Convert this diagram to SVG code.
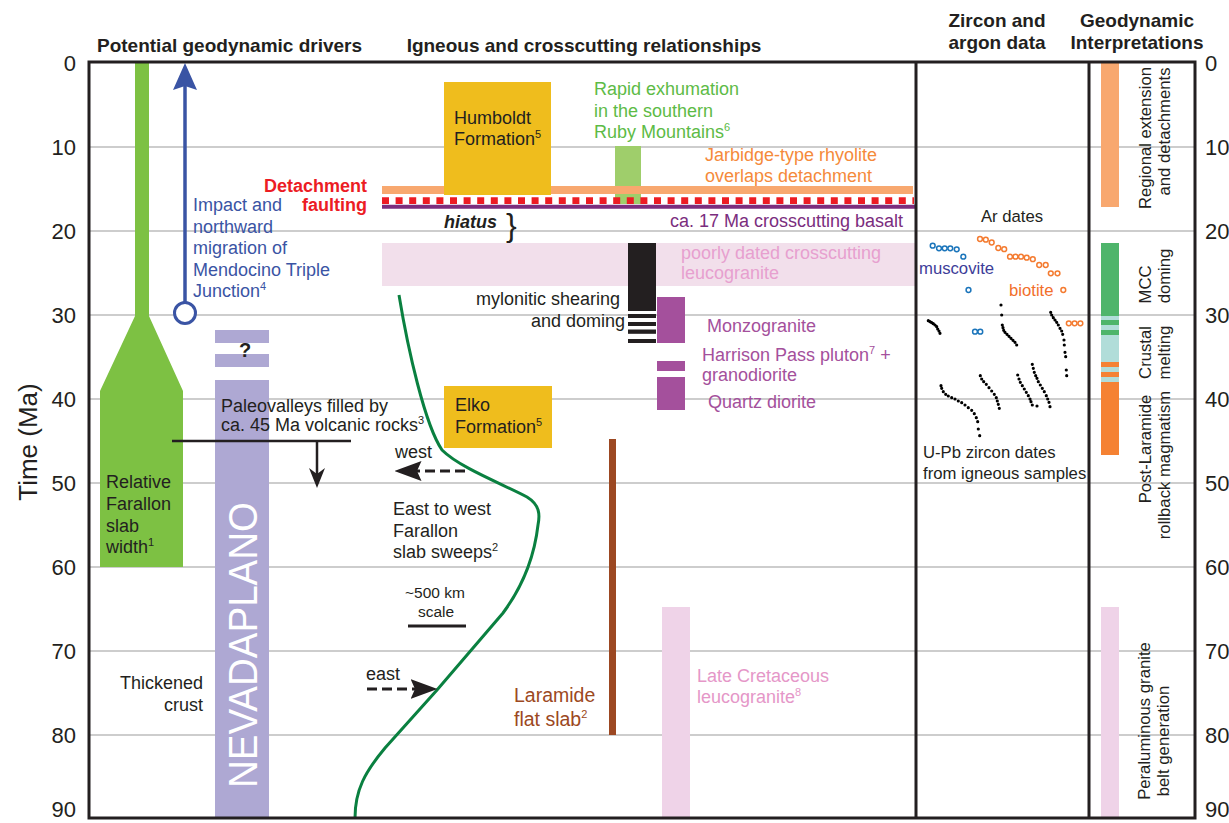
<svg xmlns="http://www.w3.org/2000/svg" width="1229" height="823" viewBox="0 0 1229 823">
<defs>
<style>
text{font-family:"Liberation Sans",Arial,sans-serif;fill:#231f20}
.b{font-size:18px}
.s{font-size:16.7px}
.h{font-size:19px;font-weight:bold}
.ax{font-size:22px}
.sup{font-size:11px}
.grid line{stroke:#cdcdcd;stroke-width:2}
.frame{fill:none;stroke:#231f20;stroke-width:3}
.gold{fill:#efbd1d}
.purp{fill:#a4509c}
.mus{fill:#fff;stroke:#1b75bb;stroke-width:1.5}
.bio{fill:#fff;stroke:#f47b30;stroke-width:1.5}
.dash{fill:none;stroke:#231f20;stroke-width:3;stroke-dasharray:10 5}
</style>
<marker id="ah" viewBox="0 0 27 20" refX="4.5" refY="10" markerWidth="27" markerHeight="20" markerUnits="userSpaceOnUse" orient="auto"><path d="M0,0 L27,10 L0,20 L4.5,10 Z" fill="#231f20"/></marker>
<marker id="ahs" viewBox="0 0 20 16" refX="6" refY="8" markerWidth="20" markerHeight="16" markerUnits="userSpaceOnUse" orient="auto"><path d="M0,0 L20,8 L0,16 L6,8 Z" fill="#231f20"/></marker>
<marker id="ahb" viewBox="0 0 27 24" refX="4" refY="12" markerWidth="27" markerHeight="24" markerUnits="userSpaceOnUse" orient="auto"><path d="M0,0 L27,12 L0,24 L4,12 Z" fill="#3a54a4"/></marker>
</defs>
<rect width="1229" height="823" fill="#fff"/>

<g id="grid" class="grid">
<line x1="89" y1="147" x2="1195" y2="147"/>
<line x1="89" y1="231" x2="1195" y2="231"/>
<line x1="89" y1="315" x2="1195" y2="315"/>
<line x1="89" y1="399" x2="1195" y2="399"/>
<line x1="89" y1="483" x2="1195" y2="483"/>
<line x1="89" y1="567" x2="1195" y2="567"/>
<line x1="89" y1="651" x2="1195" y2="651"/>
<line x1="89" y1="735" x2="1195" y2="735"/>
</g>

<g id="headers">
<text class="h" x="97" y="52">Potential geodynamic drivers</text>
<text class="h" x="584" y="52" text-anchor="middle">Igneous and crosscutting relationships</text>
<text class="h" x="997" y="27" text-anchor="middle">Zircon and</text>
<text class="h" x="997" y="49" text-anchor="middle">argon data</text>
<text class="h" x="1137" y="27" text-anchor="middle">Geodynamic</text>
<text class="h" x="1137" y="49" text-anchor="middle">Interpretations</text>
</g>

<g id="axis-left" class="ax" text-anchor="end">
<text x="76" y="71">0</text><text x="76" y="155">10</text><text x="76" y="239">20</text><text x="76" y="323">30</text><text x="76" y="407">40</text><text x="76" y="491">50</text><text x="76" y="575">60</text><text x="76" y="659">70</text><text x="76" y="743">80</text><text x="76" y="817">90</text>
</g>
<g id="axis-right" class="ax">
<text x="1205" y="71">0</text><text x="1205" y="155">10</text><text x="1205" y="239">20</text><text x="1205" y="323">30</text><text x="1205" y="407">40</text><text x="1205" y="491">50</text><text x="1205" y="575">60</text><text x="1205" y="659">70</text><text x="1205" y="743">80</text><text x="1205" y="817">90</text>
</g>
<text id="axis-title" transform="translate(37,442) rotate(-90)" text-anchor="middle" font-size="26">Time (Ma)</text>

<g id="farallon-width">
<polygon points="135,62 149,62 149,316 183,391 183,567 100,567 100,391 135,316" fill="#7dc143"/>
<text class="b" x="106" y="488">Relative</text>
<text class="b" x="106" y="510">Farallon</text>
<text class="b" x="106" y="532">slab</text>
<text class="b" x="106" y="553">width<tspan class="sup" dy="-7">1</tspan></text>
</g>

<g id="mendocino" fill="#3a54a4">
<text class="b" x="193" y="211" style="fill:#3a54a4">Impact and</text>
<text class="b" x="193" y="232.5" style="fill:#3a54a4">northward</text>
<text class="b" x="193" y="254" style="fill:#3a54a4">migration of</text>
<text class="b" x="193" y="275.5" style="fill:#3a54a4">Mendocino Triple</text>
<text class="b" x="193" y="297" style="fill:#3a54a4">Junction<tspan class="sup" dy="-7">4</tspan></text>
<circle cx="185" cy="313" r="10.5" fill="#fff" stroke="#3a54a4" stroke-width="3"/>
</g>

<g id="detachment-label" font-weight="bold" text-anchor="end">
<text x="367" y="192" font-size="18" style="fill:#ec1c24">Detachment</text>
<text x="367" y="211" font-size="18" style="fill:#ec1c24">faulting</text>
</g>

<g id="nevadaplano">
<rect x="215" y="330" width="54" height="13" fill="#aea8d3"/>
<rect x="215" y="354" width="54" height="13" fill="#aea8d3"/>
<rect x="215" y="380" width="54" height="438" fill="#aea8d3"/>
<text x="245" y="357" text-anchor="middle" font-size="20" font-weight="bold">?</text>
<text transform="translate(257,645) rotate(-90)" text-anchor="middle" font-size="41" style="fill:#fff" textLength="286" lengthAdjust="spacingAndGlyphs">NEVADAPLANO</text>
</g>

<g id="paleovalleys">
<text class="b" x="221" y="412">Paleovalleys filled by</text>
<text class="b" x="221" y="431">ca. 45 Ma volcanic rocks<tspan class="sup" dy="-7">3</tspan></text>
<line x1="172" y1="441" x2="351" y2="441" stroke="#231f20" stroke-width="2.5"/>
</g>

<g id="thickened-crust" text-anchor="end">
<text class="b" x="203" y="689">Thickened</text>
<text class="b" x="203" y="711">crust</text>
</g>

<g id="rapid-exhumation">
<rect x="615" y="146" width="26" height="58" fill="#9fce6b"/>
<text class="b" x="594" y="95" style="fill:#5dbb46">Rapid exhumation</text>
<text class="b" x="594" y="117" style="fill:#5dbb46">in the southern</text>
<text class="b" x="594" y="138" style="fill:#5dbb46">Ruby Mountains<tspan class="sup" dy="-7" style="fill:#5dbb46">6</tspan></text>
</g>

<g id="jarbidge">
<rect x="382" y="186" width="531" height="8" fill="#f8a86f"/>
<text class="b" x="705" y="161" style="fill:#f58a3b">Jarbidge-type rhyolite</text>
<text class="b" x="705" y="182" style="fill:#f58a3b">overlaps detachment</text>
</g>

<g id="humboldt">
<rect x="444" y="82" width="107" height="113" class="gold"/>
<text class="b" x="454" y="124">Humboldt</text>
<text class="b" x="454" y="145">Formation<tspan class="sup" dy="-7">5</tspan></text>
</g>

<g id="detachment">
<line x1="382" y1="200.7" x2="914" y2="200.7" stroke="#ec1c24" stroke-width="6.7" stroke-dasharray="7 6.6"/>
<line x1="382" y1="206.7" x2="916" y2="206.7" stroke="#7b2d7e" stroke-width="4"/>
</g>

<g id="basalt">
<text class="b" x="444" y="228" font-weight="bold" font-style="italic">hiatus</text>
<text x="506" y="236" font-size="32">}</text>
<text class="b" x="670" y="227" style="fill:#7b2d7e">ca. 17 Ma crosscutting basalt</text>
</g>

<g id="leucogranite-band">
<rect x="382" y="243" width="534" height="43" fill="#f2dfeb"/>
<text class="b" x="681" y="259" style="fill:#e7a0cf">poorly dated crosscutting</text>
<text class="b" x="681" y="279" style="fill:#e7a0cf">leucogranite</text>
</g>

<g id="mylonitic" fill="#231f20">
<rect x="628" y="243" width="28" height="68"/>
<rect x="628" y="314" width="28" height="4"/>
<rect x="628" y="322" width="28" height="4"/>
<rect x="628" y="329.5" width="28" height="4.3"/>
<rect x="628" y="339" width="28" height="4"/>
<text class="b" x="620" y="305" text-anchor="end">mylonitic shearing</text>
<text class="b" x="625" y="327" text-anchor="end">and doming</text>
</g>

<g id="harrison-pass">
<rect x="657" y="297" width="28" height="46" class="purp"/>
<rect x="657" y="361" width="28" height="10" class="purp"/>
<rect x="657" y="377" width="28" height="33" class="purp"/>
<text class="b" x="707" y="332" style="fill:#a4509c">Monzogranite</text>
<text class="b" x="702" y="361" style="fill:#a4509c">Harrison Pass pluton<tspan class="sup" dy="-7" style="fill:#a4509c">7</tspan><tspan dy="7" style="fill:#a4509c"> +</tspan></text>
<text class="b" x="702" y="381" style="fill:#a4509c">granodiorite</text>
<text class="b" x="708" y="408" style="fill:#a4509c">Quartz diorite</text>
</g>

<g id="elko">
<rect x="444" y="386" width="108" height="62" class="gold"/>
<text class="b" x="455" y="411">Elko</text>
<text class="b" x="455" y="433">Formation<tspan class="sup" dy="-7">5</tspan></text>
</g>

<g id="slab-sweep">
<path d="M399,295 C408,350 425,425 442,450 C460,468 505,485 527,497 C540,505 540,515 538,525 C534,560 520,590 503,613 L437,690 L385,748 C365,772 355,790 355,818" fill="none" stroke="#0a8040" stroke-width="3"/>
<text class="b" x="395" y="458">west</text>
<text class="b" x="366" y="680">east</text>
<text class="b" x="393" y="515">East to west</text>
<text class="b" x="393" y="537">Farallon</text>
<text class="b" x="393" y="558">slab sweeps<tspan class="sup" dy="-7">2</tspan></text>
<text x="435" y="598" font-size="15.5" text-anchor="middle">~500 km</text>
<text x="436" y="617" font-size="15.5" text-anchor="middle">scale</text>
<line x1="408" y1="626" x2="466" y2="626" stroke="#231f20" stroke-width="3"/>
</g>

<g id="laramide">
<rect x="609" y="439" width="7" height="296" fill="#9c4822"/>
<text x="514" y="702" font-size="19.5" style="fill:#9c4822">Laramide</text>
<text x="514" y="726" font-size="19.5" style="fill:#9c4822">flat slab<tspan class="sup" dy="-8" style="fill:#9c4822">2</tspan></text>
</g>

<g id="late-cretaceous">
<rect x="662" y="607" width="28" height="211" fill="#efd3e8"/>
<text class="b" x="697" y="682" style="fill:#e597c8">Late Cretaceous</text>
<text class="b" x="697" y="703" style="fill:#e597c8">leucogranite<tspan class="sup" dy="-7" style="fill:#e597c8">8</tspan></text>
</g>

<g id="argon-data">
<text class="s" x="1012" y="222" text-anchor="middle">Ar dates</text>
<circle class="mus" cx="932.7" cy="245.7" r="2.4"/><circle class="mus" cx="939" cy="248.3" r="2.4"/><circle class="mus" cx="944.7" cy="248.3" r="2.4"/><circle class="mus" cx="950.3" cy="248.3" r="2.4"/><circle class="mus" cx="956.7" cy="249.3" r="2.4"/><circle class="mus" cx="963.3" cy="256.7" r="2.4"/><circle class="mus" cx="968.5" cy="290" r="2.4"/><circle class="mus" cx="975" cy="331.7" r="2.4"/><circle class="mus" cx="980.3" cy="331.7" r="2.4"/>
<text class="s" x="919" y="274" style="fill:#3d3d99">muscovite</text>
<circle class="bio" cx="980" cy="239" r="2.4"/><circle class="bio" cx="985.8" cy="239.7" r="2.4"/><circle class="bio" cx="991.7" cy="242.5" r="2.4"/><circle class="bio" cx="998.3" cy="248" r="2.4"/><circle class="bio" cx="1004.2" cy="249.2" r="2.4"/><circle class="bio" cx="1010" cy="256.7" r="2.4"/><circle class="bio" cx="1015.5" cy="256.7" r="2.4"/><circle class="bio" cx="1021" cy="256.7" r="2.4"/><circle class="bio" cx="1026.7" cy="257.7" r="2.4"/><circle class="bio" cx="1032.8" cy="259.2" r="2.4"/><circle class="bio" cx="1039.2" cy="265" r="2.4"/><circle class="bio" cx="1045.7" cy="265" r="2.4"/><circle class="bio" cx="1050.8" cy="273.3" r="2.4"/><circle class="bio" cx="1057.5" cy="273.3" r="2.4"/><circle class="bio" cx="1063.3" cy="290" r="2.4"/><circle class="bio" cx="1068.8" cy="323.3" r="2.4"/><circle class="bio" cx="1074.6" cy="323.3" r="2.4"/><circle class="bio" cx="1080.4" cy="323.3" r="2.4"/>
<text class="s" x="1009" y="296" style="fill:#f26f2b">biotite</text>
</g>

<g id="zircon-data">
<path fill="none" stroke="#000" stroke-width="3.2" stroke-linecap="round" d="M928.3,320.7h0M930,321.7h0M931.7,322.7h0M933.3,323.7h0M935,325h0M936.7,326.7h0M937.7,329h0M939,331h0M940,333.3h0
M1001,305h0M1001.7,315h0M1002.3,325h0M1003,327.7h0M1003.7,330.3h0M1005,332.3h0M1007,334.3h0M1009,336.3h0M1011,338.3h0M1013,340.3h0M1015,342.3h0M1016.7,345h0
M1050.7,312.3h0M1051.7,315h0M1053.3,317.7h0M1055,320h0M1056.7,322.3h0M1058.3,325h0M1060,328.3h0M1061.7,331h0M1062.7,334.3h0M1064,340h0M1064.3,345h0M1065,352.3h0M1065.7,356.7h0M1066.3,370h0M1066.7,375.7h0
M941,385.7h0M941.7,388.3h0M943.3,391.7h0M945.7,394.3h0M948.3,396h0M951.7,397.7h0M955,399h0M958.3,401h0M961.7,402.7h0M965,405h0M968.3,407.7h0M971.7,410.3h0M974.3,413.7h0M976.3,417.7h0M977.7,421.7h0M978.3,429h0M979.7,435.7h0
M980.3,375.7h0M981.7,379h0M983.7,381.7h0M986.3,384.3h0M989,387.7h0M991.7,391h0M994.3,394.3h0M996.3,397.7h0M997.3,401h0M998.3,404.3h0M999.3,408.3h0
M1017.7,375h0M1019,379h0M1020.3,382.3h0M1022.3,385.7h0M1024.3,389h0M1026.3,392.3h0M1028.3,395.7h0M1030,399h0M1031,401.7h0M1032.3,405h0M1037,406h0
M1032.3,364.3h0M1033.3,368.3h0M1034.3,372.3h0M1035.7,375.7h0M1037,378.3h0M1038.3,381.7h0M1040.3,385h0M1042.3,388.3h0M1044.3,391.7h0M1046.3,395.7h0M1047.7,399h0M1049,402.3h0M1050,406.7h0"/>
<text class="s" x="923" y="458">U-Pb zircon dates</text>
<text class="s" x="923" y="479">from igneous samples</text>
</g>

<g id="interpretations">
<rect x="1101" y="62" width="18" height="145" fill="#f8a86f"/>
<rect x="1101" y="243" width="18" height="73" fill="#4eb56b"/>
<rect x="1101" y="316" width="18" height="4" fill="#b1ddd9"/>
<rect x="1101" y="320" width="18" height="5" fill="#4eb56b"/>
<rect x="1101" y="325" width="18" height="5" fill="#b1ddd9"/>
<rect x="1101" y="330" width="18" height="5" fill="#4eb56b"/>
<rect x="1101" y="335" width="18" height="27" fill="#b1ddd9"/>
<rect x="1101" y="362" width="18" height="5" fill="#f58233"/>
<rect x="1101" y="367" width="18" height="5" fill="#b1ddd9"/>
<rect x="1101" y="372" width="18" height="5" fill="#f58233"/>
<rect x="1101" y="377" width="18" height="5" fill="#b1ddd9"/>
<rect x="1101" y="382" width="18" height="73" fill="#f58233"/>
<rect x="1101" y="607" width="18" height="211" fill="#efd3e8"/>
<text class="s" transform="translate(1151,138) rotate(-90)" text-anchor="middle">Regional extension</text>
<text class="s" transform="translate(1170,131.5) rotate(-90)" text-anchor="middle">and detachments</text>
<text class="s" transform="translate(1151,284.5) rotate(-90)" text-anchor="middle">MCC</text>
<text class="s" transform="translate(1170,276) rotate(-90)" text-anchor="middle">doming</text>
<text class="s" transform="translate(1151,352.5) rotate(-90)" text-anchor="middle">Crustal</text>
<text class="s" transform="translate(1170,352.5) rotate(-90)" text-anchor="middle">melting</text>
<text class="s" transform="translate(1151,449) rotate(-90)" text-anchor="middle">Post-Laramide</text>
<text class="s" transform="translate(1170,465) rotate(-90)" text-anchor="middle">rollback magmatism</text>
<text class="s" transform="translate(1150,721) rotate(-90)" text-anchor="middle">Peraluminous granite</text>
<text class="s" transform="translate(1169,741) rotate(-90)" text-anchor="middle">belt generation</text>
</g>

<g id="connectors">
<line x1="185" y1="302.5" x2="185" y2="86" stroke="#3a54a4" stroke-width="3.5" marker-end="url(#ahb)"/>
<line x1="317" y1="441" x2="317" y2="474" stroke="#231f20" stroke-width="2.5" marker-end="url(#ahs)"/>
<line x1="465" y1="471" x2="417" y2="471" class="dash" marker-end="url(#ah)"/>
<line x1="367" y1="689" x2="415" y2="689" class="dash" marker-end="url(#ah)"/>
</g>

<g id="frame" class="frame">
<rect x="89" y="62" width="1106" height="756"/>
<line x1="916" y1="62" x2="916" y2="818"/>
<line x1="1089" y1="62" x2="1089" y2="818"/>
</g>
</svg>
